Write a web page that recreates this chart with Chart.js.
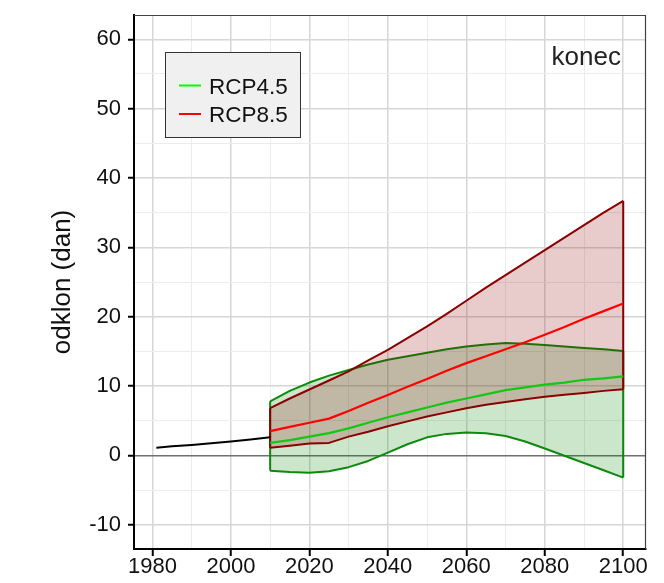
<!DOCTYPE html>
<html>
<head>
<meta charset="utf-8">
<script src="https://cdn.jsdelivr.net/npm/chart.js@4.4.1/dist/chart.umd.min.js"></script>
<style>
  html, body { margin: 0; padding: 0; background: #fff; }
  #wrap { width: 664px; height: 583px; }
</style>
</head>
<body>
<div id="wrap"><canvas id="odklonChart" width="664" height="583"></canvas></div>
<script>
// observed period
const histYears = [1981, 1985, 1990, 1995, 2000, 2005, 2010];
const histValues = [1.1, 1.3, 1.5, 1.75, 2.0, 2.3, 2.6];

// scenario period
const years = [2010, 2015, 2020, 2025, 2030, 2035, 2040, 2045, 2050, 2055,
               2060, 2065, 2070, 2075, 2080, 2085, 2090, 2095, 2100];

const rcp45Max  = [7.8, 9.3, 10.5, 11.5, 12.3, 13.1, 13.8, 14.3, 14.8, 15.3,
                   15.7, 16.0, 16.2, 16.1, 15.9, 15.7, 15.5, 15.3, 15.05];
const rcp45Mean = [1.8, 2.2, 2.7, 3.2, 3.9, 4.7, 5.5, 6.2, 6.9, 7.6,
                   8.2, 8.8, 9.4, 9.8, 10.2, 10.5, 10.9, 11.1, 11.4];
const rcp45Min  = [-2.2, -2.4, -2.5, -2.3, -1.7, -0.8, 0.4, 1.6, 2.6, 3.1,
                   3.3, 3.2, 2.8, 2.0, 1.0, -0.05, -1.1, -2.15, -3.2];

const rcp85Max  = [6.8, 8.2, 9.5, 10.8, 12.1, 13.7, 15.2, 16.9, 18.6, 20.4,
                   22.3, 24.2, 26.0, 27.8, 29.6, 31.4, 33.2, 35.0, 36.7];
const rcp85Mean = [3.5, 4.1, 4.7, 5.3, 6.4, 7.6, 8.7, 9.9, 11.0, 12.2,
                   13.3, 14.3, 15.3, 16.3, 17.4, 18.5, 19.7, 20.8, 21.9];
const rcp85Min  = [1.1, 1.4, 1.7, 1.8, 2.7, 3.4, 4.2, 4.9, 5.6, 6.2,
                   6.8, 7.3, 7.7, 8.1, 8.45, 8.75, 9.0, 9.3, 9.55];

const legendLabels = ['RCP4.5', 'RCP8.5'];
const legendColors = ['#00ff00', '#ff0000'];
const panelLabel = 'konec';

const xTicks = [1980, 1990, 2000, 2010, 2020, 2030, 2040, 2050, 2060, 2070, 2080, 2090, 2100];
const xLabels = [1980, 2000, 2020, 2040, 2060, 2080, 2100];
const yTicks = [-10, -5, 0, 5, 10, 15, 20, 25, 30, 35, 40, 45, 50, 55, 60];
const yLabels = [-10, 0, 10, 20, 30, 40, 50, 60];

const FONT = '"Liberation Sans", Arial, Helvetica, sans-serif';
Chart.defaults.font.family = FONT;

const pts = (xs, ys) => xs.map((x, i) => ({ x: x, y: ys[i] }));
const last = arr => arr[arr.length - 1];
// vertical closing edge of a band at a given year
const edge = (x, lo, hi) => [{ x: x, y: lo }, { x: x, y: hi }];

const GREEN_EDGE = '#0b8a0b';
const RED_EDGE = '#8b0000';

const line = (data, color, width, extra) => Object.assign({
  data: data,
  borderColor: color,
  borderWidth: width,
  borderJoinStyle: 'round',
  pointRadius: 0,
  fill: false,
  tension: 0
}, extra || {});

// datasets are painted last-to-first, so the green band goes under the red one
const datasets = [
  line(pts(histYears, histValues), '#000000', 2),
  line(pts(years, rcp45Mean), '#12c812', 2.2),
  line(pts(years, rcp85Mean), '#ff0000', 2.2),
  line(pts(years, rcp85Max), RED_EDGE, 2),
  line(pts(years, rcp85Min), RED_EDGE, 2, { fill: '-1', backgroundColor: 'rgba(139,0,0,0.2)' }),
  line(edge(years[0], rcp85Min[0], rcp85Max[0]), RED_EDGE, 2),
  line(edge(last(years), last(rcp85Min), last(rcp85Max)), RED_EDGE, 2),
  line(pts(years, rcp45Max), GREEN_EDGE, 2),
  line(pts(years, rcp45Min), GREEN_EDGE, 2, { fill: '-1', backgroundColor: 'rgba(0,128,0,0.2)' }),
  line(edge(years[0], rcp45Min[0], rcp45Max[0]), GREEN_EDGE, 2),
  line(edge(last(years), last(rcp45Min), last(rcp45Max)), GREEN_EDGE, 2)
];

const frameAndLegend = {
  id: 'frameAndLegend',
  afterDraw(chart) {
    const { ctx, chartArea: a } = chart;
    ctx.save();

    // thin frame on top and right
    ctx.strokeStyle = '#444';
    ctx.lineWidth = 1.2;
    ctx.beginPath();
    ctx.moveTo(a.left, a.top + 0.5);
    ctx.lineTo(a.right - 0.5, a.top + 0.5);
    ctx.lineTo(a.right - 0.5, a.bottom);
    ctx.stroke();

    // legend box
    const bx = a.left + 31, by = a.top + 37, bw = 135, bh = 85;
    ctx.fillStyle = '#f0f0f0';
    ctx.fillRect(bx, by, bw, bh);
    ctx.strokeStyle = '#333';
    ctx.lineWidth = 1;
    ctx.strokeRect(bx + 0.5, by + 0.5, bw, bh);

    ctx.font = '22.5px ' + FONT;
    ctx.textBaseline = 'alphabetic';
    ctx.textAlign = 'left';
    legendLabels.forEach((lab, i) => {
      const y = by + 33.5 + i * 28.5;
      ctx.strokeStyle = legendColors[i];
      ctx.lineWidth = 2;
      ctx.beginPath();
      ctx.moveTo(bx + 14, y);
      ctx.lineTo(bx + 36, y);
      ctx.stroke();
      ctx.fillStyle = '#111';
      ctx.fillText(lab, bx + 44, y + 8);
    });

    // panel name
    ctx.font = '26px ' + FONT;
    ctx.textAlign = 'right';
    ctx.fillStyle = '#222';
    ctx.fillText(panelLabel, a.right - 25, a.top + 50);
    ctx.restore();
  }
};

const isMajorX = v => xLabels.includes(v);
const isMajorY = v => yLabels.includes(v);

new Chart(document.getElementById('odklonChart'), {
  type: 'line',
  data: { datasets: datasets },
  options: {
    responsive: false,
    animation: false,
    devicePixelRatio: 1,
    layout: { padding: { left: 47, top: 15, right: 18, bottom: 0 } },
    plugins: {
      legend: { display: false },
      tooltip: { enabled: false }
    },
    scales: {
      x: {
        type: 'linear',
        min: 1975.3,
        max: 2105.8,
        afterBuildTicks: s => { s.ticks = xTicks.map(v => ({ value: v })); },
        afterFit: s => {
          s.height = 34;
          s.paddingLeft = 0;
          s.paddingRight = 0;
        },
        ticks: {
          callback: v => isMajorX(v) ? String(v) : '',
          autoSkip: false,
          maxRotation: 0,
          font: { size: 22 },
          color: '#111',
          padding: -2
        },
        grid: {
          color: c => isMajorX(c.tick.value) ? '#d6d6d6' : '#ececec',
          lineWidth: c => isMajorX(c.tick.value) ? 1.5 : 1,
          tickLength: 7,
          tickWidth: 2,
          tickColor: c => isMajorX(c.tick.value) ? '#000' : 'rgba(0,0,0,0)'
        },
        border: { color: '#000', width: 2 }
      },
      y: {
        min: -13.5,
        max: 63.5,
        afterBuildTicks: s => { s.ticks = yTicks.map(v => ({ value: v })); },
        afterFit: s => {
          s.width = 87;
          s.paddingTop = 0;
          s.paddingBottom = 0;
        },
        ticks: {
          callback: v => isMajorY(v) ? String(v) : '',
          autoSkip: false,
          font: { size: 22 },
          color: '#111',
          padding: 7
        },
        grid: {
          color: c => c.tick.value === 0 ? '#707070' : (isMajorY(c.tick.value) ? '#d6d6d6' : '#ececec'),
          lineWidth: c => (c.tick.value === 0 || isMajorY(c.tick.value)) ? 1.5 : 1,
          tickLength: 6,
          tickWidth: 2,
          tickColor: c => isMajorY(c.tick.value) ? '#000' : 'rgba(0,0,0,0)'
        },
        border: { color: '#000', width: 2 },
        title: {
          display: true,
          text: 'odklon (dan)',
          font: { size: 26 },
          color: '#111',
          padding: { top: 0, bottom: 0 }
        }
      }
    }
  },
  plugins: [frameAndLegend]
});
</script>
</body>
</html>
